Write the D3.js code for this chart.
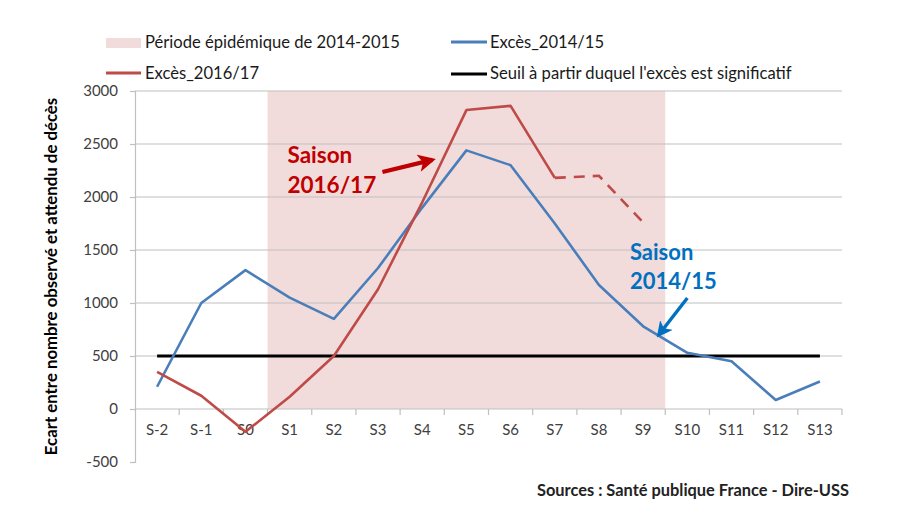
<!DOCTYPE html>
<html><head><meta charset="utf-8">
<script src="https://cdn.jsdelivr.net/npm/d3@7"></script>
<style>body{margin:0;background:#fff}svg{display:block;font-family:Lato,"Open Sans",sans-serif}</style>
</head><body><svg id="c" width="900" height="529"></svg>
<script>
const categories = ["S-2","S-1","S0","S1","S2","S3","S4","S5","S6","S7","S8","S9","S10","S11","S12","S13"];
const excess1415 = [210,1000,1310,1050,850,1330,1900,2440,2300,1750,1170,780,530,450,85,260];
const excess1617 = [350,125,-215,115,500,1130,1950,2820,2860,2180,2200,1760];
const provisionalStart = 9; // from S7 onward, dashed
const threshold = 500;
const yTicks = [-500,0,500,1000,1500,2000,2500,3000];
const gridValues = [0,500,1000,1500,2000,2500,3000];
const epidemicPeriod = ["S1","S9"];
const legendLabels = ["Période épidémique de 2014-2015","Excès_2014/15","Excès_2016/17","Seuil à partir duquel l'excès est significatif"];

const colBlue = "#4A7EBB", colRed = "#BE4B48", colBand = "#F2DCDB";
const svg = d3.select("#c");
const x = d3.scaleBand().domain(categories).range([135,842]);
const y = d3.scaleLinear().domain([-500,3000]).range([462,91]);
const cx = c => x(c) + x.bandwidth()/2;

// epidemic band
svg.append("rect")
  .attr("x", x(epidemicPeriod[0])).attr("width", x(epidemicPeriod[1]) + x.bandwidth() - x(epidemicPeriod[0]))
  .attr("y", y(3000)).attr("height", y(0) - y(3000)).attr("fill", colBand);

// gridlines
svg.append("g").selectAll("line").data(gridValues).join("line")
  .attr("x1",135).attr("x2",842).attr("y1",d=>y(d)).attr("y2",d=>y(d))
  .attr("stroke","#BFBFBF").attr("stroke-width",1.2);

// y axis
const ya = svg.append("g").attr("transform","translate(135,0)")
  .call(d3.axisLeft(y).tickValues(yTicks).tickSize(5).tickPadding(12).tickFormat(d => String(d)));
ya.select(".domain").attr("stroke","#BFBFBF").attr("stroke-width",1.2);
ya.selectAll(".tick line").attr("stroke","#BFBFBF").attr("stroke-width",1.2);
ya.selectAll("text").attr("font-size",15).attr("fill","#404040").attr("font-family","Lato");

// x axis at y=0
const xa = svg.append("g").attr("transform",`translate(0,${y(0)})`)
  .call(d3.axisBottom(x).tickSize(0).tickPadding(15));
xa.select(".domain").remove();
xa.selectAll("text").attr("font-size",15).attr("fill","#404040").attr("font-family","Lato");
svg.append("g").selectAll("line").data(categories.slice(1).concat(["end"])).join("line")
  .attr("x1",(d,i)=>x(categories[i]) + x.bandwidth()).attr("x2",(d,i)=>x(categories[i]) + x.bandwidth())
  .attr("y1",y(0)).attr("y2",y(0)+6).attr("stroke","#BFBFBF").attr("stroke-width",1.2);

// threshold
svg.append("line").attr("x1",cx(categories[0])).attr("x2",cx(categories[categories.length-1]))
  .attr("y1",y(threshold)).attr("y2",y(threshold)).attr("stroke","#000").attr("stroke-width",3);

const line = d3.line().x(d=>cx(d[0])).y(d=>y(d[1]));
const s1415 = categories.map((c,i)=>[c,excess1415[i]]);
const s1617 = excess1617.map((v,i)=>[categories[i],v]);
svg.append("path").attr("d",line(s1415)).attr("fill","none").attr("stroke",colBlue).attr("stroke-width",2.6).attr("stroke-linejoin","round");
svg.append("path").attr("d",line(s1617.slice(0,provisionalStart+1))).attr("fill","none").attr("stroke",colRed).attr("stroke-width",2.6).attr("stroke-linejoin","round");
svg.append("path").attr("d",line(s1617.slice(provisionalStart))).attr("fill","none").attr("stroke",colRed).attr("stroke-width",2.6).attr("stroke-dasharray","11,8");

// axis title
svg.append("text").attr("transform",`translate(57,${(y(-500)+y(3000))/2}) rotate(-90)`)
  .attr("text-anchor","middle").attr("font-weight","bold").attr("font-size",16.8).attr("fill","#000")
  .text("Ecart entre nombre observé et attendu de décès");

// legend
const lg = svg.append("g").attr("font-size",16.6).attr("fill","#1a1a1a");
lg.append("rect").attr("x",106).attr("y",38).attr("width",35).attr("height",10).attr("fill",colBand);
lg.append("text").attr("x",145).attr("y",48).text(legendLabels[0]);
lg.append("line").attr("x1",451).attr("x2",487).attr("y1",42).attr("y2",42).attr("stroke",colBlue).attr("stroke-width",3);
lg.append("text").attr("x",490).attr("y",48).text(legendLabels[1]);
lg.append("line").attr("x1",106).attr("x2",141).attr("y1",73).attr("y2",73).attr("stroke",colRed).attr("stroke-width",3);
lg.append("text").attr("x",145).attr("y",79).text(legendLabels[2]);
lg.append("line").attr("x1",451).attr("x2",487).attr("y1",74).attr("y2",74).attr("stroke","#000").attr("stroke-width",3);
lg.append("text").attr("x",490).attr("y",79).text(legendLabels[3]);

// annotations
const defs = svg.append("defs");
function marker(id,color,w){
  defs.append("marker").attr("id",id).attr("viewBox","0 0 10 10").attr("refX",8).attr("refY",5)
    .attr("markerWidth",w).attr("markerHeight",w).attr("orient","auto")
    .append("path").attr("d","M0,0 L10,5 L0,10 L2.5,5 Z").attr("fill",color);
}
marker("ar","#C00000",4.2); marker("ab","#0070C0",4.6);
const xat = (c,f) => x(c) + x.bandwidth()*f;
svg.append("line").attr("x1",xat("S3",0.6)).attr("y1",y(2236)).attr("x2",xat("S4",0.73)).attr("y2",y(2350))
  .attr("stroke","#C00000").attr("stroke-width",4.2).attr("marker-end","url(#ar)");
svg.append("line").attr("x1",xat("S10",0.5)).attr("y1",y(1047)).attr("x2",xat("S9",0.85)).attr("y2",y(698))
  .attr("stroke","#0070C0").attr("stroke-width",3.4).attr("marker-end","url(#ab)");
const ar = svg.append("text").attr("font-weight","bold").attr("font-size",22.5).attr("fill","#C00000");
ar.append("tspan").attr("x",xat("S1",0.45)).attr("y",y(2321)).text("Saison");
ar.append("tspan").attr("x",xat("S1",0.45)).attr("y",y(2038)).text("2016/17");
const ab = svg.append("text").attr("font-weight","bold").attr("font-size",22).attr("fill","#0070C0");
ab.append("tspan").attr("x",xat("S9",0.2)).attr("y",y(1406)).text("Saison");
ab.append("tspan").attr("x",xat("S9",0.2)).attr("y",y(1132)).text("2014/15");

svg.append("text").attr("x",849).attr("y",496).attr("text-anchor","end").attr("font-weight","bold")
  .attr("font-size",16.4).attr("fill","#222").text("Sources : Santé publique France - Dire-USS");
</script></body></html>
